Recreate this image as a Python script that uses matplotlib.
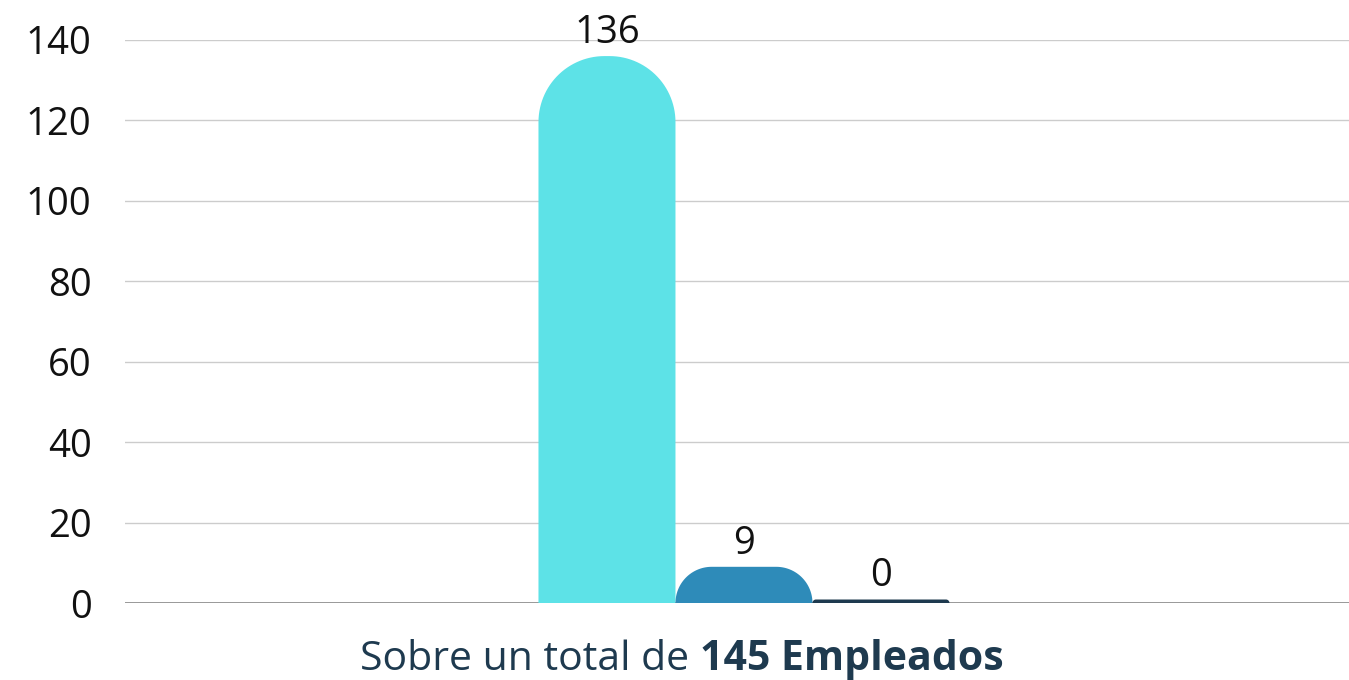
import matplotlib
matplotlib.use("Agg")
import matplotlib.pyplot as plt
import numpy as np
from matplotlib.patches import Polygon

plt.rcParams['font.family'] = ['Open Sans', 'DejaVu Sans']

# Data
series_names = ["Grupo A", "Grupo B", "Grupo C"]
values = [136, 9, 0]
colors = ["#5DE2E7", "#2E8BB9", "#1E3A4F"]
y_ticks = [0, 20, 40, 60, 80, 100, 120, 140]
label_normal = "Sobre un total de "
label_bold = "145 Empleados"

W, H, DPI = 1349, 680, 100
fig = plt.figure(figsize=(W / DPI, H / DPI), dpi=DPI)
ax_left, ax_right, ax_bottom, ax_top = 125, 1349, 603, 40
ax = fig.add_axes([ax_left / W, 1 - ax_bottom / H, (ax_right - ax_left) / W, (ax_bottom - ax_top) / H])

xlim = (-0.5, 0.5)
ylim = (0, 140)
ax.set_xlim(*xlim)
ax.set_ylim(*ylim)

ax_w_px = ax_right - ax_left
ax_h_px = ax_bottom - ax_top
ux = (xlim[1] - xlim[0]) / ax_w_px  # data per pixel x
uy = (ylim[1] - ylim[0]) / ax_h_px  # data per pixel y

bar_w = 137 * ux
center = 0.0057
offsets = [-1, 0, 1]


def rounded_bar(x0, w, h, r_px):
    """Polygon vertices for a bar with rounded top corners (r in px)."""
    h_px = max(h / uy, 3.5)
    h = h_px * uy
    w_px = w / ux
    r = min(r_px, w_px / 2, h_px)
    rx = r * ux
    ry = r * uy
    pts = [(x0, 0), (x0, h - ry)]
    t = np.linspace(np.pi, np.pi / 2, 30)
    cx, cy = x0 + rx, h - ry
    pts += list(zip(cx + rx * np.cos(t), cy + ry * np.sin(t)))
    t = np.linspace(np.pi / 2, 0, 30)
    cx = x0 + w - rx
    pts += list(zip(cx + rx * np.cos(t), cy + ry * np.sin(t)))
    pts += [(x0 + w, h - ry), (x0 + w, 0)]
    return pts, h


for off, v, c in zip(offsets, values, colors):
    xc = center + off * bar_w
    pts, htop = rounded_bar(xc - bar_w / 2, bar_w, v, 66)
    ax.add_patch(Polygon(pts, closed=True, facecolor=c, edgecolor="none", zorder=3))
    ax.annotate(str(v), xy=(xc, htop), xytext=(0, 3), textcoords="offset points",
                ha="center", va="bottom", fontsize=27.5, color="#111111",
                annotation_clip=False, zorder=4)

ax.set_yticks(y_ticks)
ax.set_yticklabels([str(t) for t in y_ticks])
ax.tick_params(axis="y", length=0, pad=24, labelsize=27.5, labelcolor="#111111")
ax.set_xticks([])
for s in ax.spines.values():
    s.set_visible(False)
for t in y_ticks:
    if t == 0:
        ax.axhline(t, color="#888888", lw=1.2, zorder=2)
    else:
        ax.axhline(t, color="#CCCCCC", lw=1.0, zorder=1)

# x label with mixed weight
t1 = fig.text(360 / W, 1 - 660 / H, label_normal, fontsize=29.5, color="#1E3A4F",
              ha="left", va="center")
fig.canvas.draw()
ext = t1.get_window_extent()
fig.text(ext.x1 / W, 1 - 660 / H, label_bold, fontsize=29.5, color="#1E3A4F",
         fontweight="bold", ha="left", va="center")

fig.savefig("out.png", dpi=DPI)
